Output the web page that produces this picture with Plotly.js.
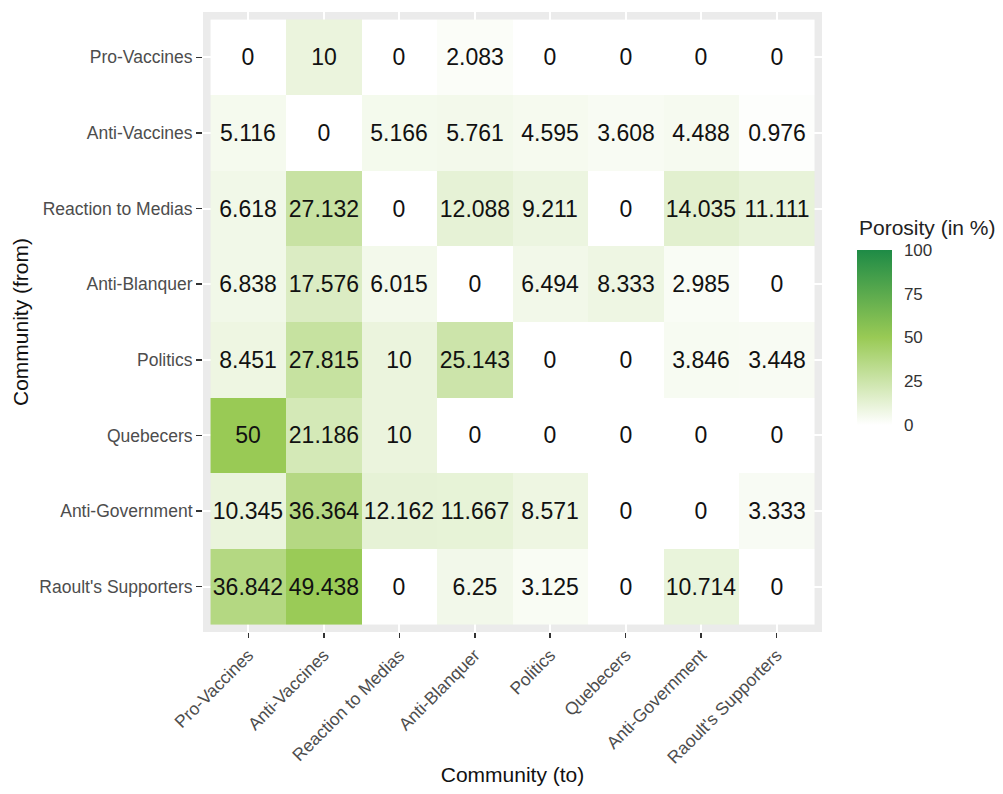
<!DOCTYPE html>
<html>
<head>
<meta charset="utf-8">
<script src="https://cdn.plot.ly/plotly-3.0.1.min.js"></script>
<style>
  html, body { margin: 0; padding: 0; background: #ffffff; }
  #chart { width: 1003px; height: 794px; }
</style>
</head>
<body>
<div id="chart"></div>
<script>
// Communities (same order on both axes)
const communities = [
  "Pro-Vaccines", "Anti-Vaccines", "Reaction to Medias", "Anti-Blanquer",
  "Politics", "Quebecers", "Anti-Government", "Raoult's Supporters"
];

// Porosity (in %) from each row community to each column community
const proVaccines      = [0, 10, 0, 2.083, 0, 0, 0, 0];
const antiVaccines     = [5.116, 0, 5.166, 5.761, 4.595, 3.608, 4.488, 0.976];
const reactionToMedias = [6.618, 27.132, 0, 12.088, 9.211, 0, 14.035, 11.111];
const antiBlanquer     = [6.838, 17.576, 6.015, 0, 6.494, 8.333, 2.985, 0];
const politics         = [8.451, 27.815, 10, 25.143, 0, 0, 3.846, 3.448];
const quebecers        = [50, 21.186, 10, 0, 0, 0, 0, 0];
const antiGovernment   = [10.345, 36.364, 12.162, 11.667, 8.571, 0, 0, 3.333];
const raoultSupporters = [36.842, 49.438, 0, 6.25, 3.125, 0, 10.714, 0];

const colorbarTicks = [0, 25, 50, 75, 100];

const z = [proVaccines, antiVaccines, reactionToMedias, antiBlanquer,
           politics, quebecers, antiGovernment, raoultSupporters];
const labels = z.map(row => row.map(v => String(v)));

const FONT = "Liberation Sans, Arial, sans-serif";

const trace = {
  type: "heatmap",
  x: communities,
  y: communities,
  z: z,
  text: labels,
  texttemplate: "%{text}",
  textfont: { family: FONT, size: 23, color: "#111111" },
  zmin: 0,
  zmax: 100,
  colorscale: [[0, "#ffffff"], [0.5, "#99ca55"], [1, "#1e8b46"]],
  hoverongaps: false,
  colorbar: {
    x: 1.057, xanchor: "left", xpad: 0,
    y: 0.475, yanchor: "middle", ypad: 0,
    len: 175, lenmode: "pixels",
    thickness: 35,
    outlinewidth: 0,
    tickmode: "array",
    tickvals: colorbarTicks,
    ticktext: colorbarTicks.map(String),
    ticks: "outside",
    ticklen: 9,
    tickcolor: "#ffffff",
    tickwidth: 1,
    tickfont: { family: FONT, size: 17, color: "#333333" }
  }
};

const layout = {
  width: 1003,
  height: 794,
  margin: { l: 203, r: 181, t: 12, b: 162 },
  paper_bgcolor: "#ffffff",
  plot_bgcolor: "#ebebeb",
  font: { family: FONT },
  xaxis: {
    type: "category",
    range: [-0.6, 7.6],
    showgrid: true, gridcolor: "#ffffff", gridwidth: 2,
    zeroline: false, showline: false,
    ticks: "outside", ticklen: 5, tickwidth: 1.5, tickcolor: "#333333",
    tickangle: -45,
    tickfont: { family: FONT, size: 17.5, color: "#4d4d4d" },
    title: { text: "Community (to)", font: { family: FONT, size: 21, color: "#111111" }, standoff: 0 },
    fixedrange: true
  },
  yaxis: {
    type: "category",
    range: [7.6, -0.6],
    showgrid: true, gridcolor: "#ffffff", gridwidth: 2,
    zeroline: false, showline: false,
    ticks: "outside", ticklen: 6, tickwidth: 1.5, tickcolor: "#333333",
    tickfont: { family: FONT, size: 17.5, color: "#4d4d4d" },
    title: { text: "Community (from)", font: { family: FONT, size: 21, color: "#111111" }, standoff: 4 },
    fixedrange: true
  },
  // legend title placed above the colour bar
  annotations: [{
    text: "Porosity (in %)",
    xref: "paper", yref: "paper",
    x: 1.0566, y: 0.652,
    xanchor: "left", yanchor: "middle",
    showarrow: false,
    font: { family: FONT, size: 21, color: "#222222" }
  }]
};

Plotly.newPlot("chart", [trace], layout, { displayModeBar: false, staticPlot: true });
</script>
</body>
</html>
